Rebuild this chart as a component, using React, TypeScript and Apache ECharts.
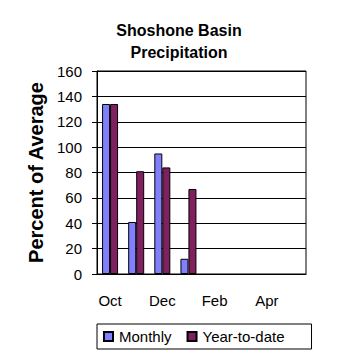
import React, { useEffect, useRef } from "react";
import * as echarts from "echarts";

const categories = ["Oct", "Nov", "Dec", "Jan", "Feb", "Mar", "Apr", "May"];
const monthly = [134, 41, 95, 12, null, null, null, null];
const yearToDate = [134, 81, 84, 67, null, null, null, null];

export default function App() {
  const ref = useRef<HTMLDivElement>(null);
  useEffect(() => {
    const chart = echarts.init(ref.current!, null, { renderer: "svg" });
    const font = "Liberation Sans, Arial, sans-serif";
    chart.setOption({
      animation: false,
      backgroundColor: "#fff",
      title: {
        text: "Shoshone Basin\nPrecipitation",
        left: "center",
        top: 14,
        textStyle: { fontFamily: font, fontSize: 16, fontWeight: "bold", color: "#000", lineHeight: 22 },
      },
      grid: { left: 97, right: 52, top: 71, bottom: 84, show: true, borderColor: "#000", borderWidth: 1 },
      legend: {
        left: 97,
        top: 324,
        borderColor: "#000",
        borderWidth: 1,
        padding: [5, 27, 5, 6],
        itemWidth: 9,
        itemHeight: 9,
        itemGap: 15,
        icon: "rect",
        textStyle: { fontFamily: font, fontSize: 15, color: "#000", padding: [0, 0, 0, 1] },
        data: ["Monthly", "Year-to-date"],
      },
      xAxis: {
        type: "category",
        data: categories,
        axisLine: { lineStyle: { color: "#000", width: 1 } },
        axisTick: { interval: 0, length: 5, lineStyle: { color: "#000" } },
        axisLabel: { interval: 1, margin: 19, fontFamily: font, fontSize: 15, color: "#000" },
      },
      yAxis: {
        type: "value",
        min: 0,
        max: 160,
        interval: 20,
        name: "Percent of Average",
        nameLocation: "middle",
        nameRotate: 90,
        nameGap: 51,
        nameTextStyle: { fontFamily: font, fontSize: 20, fontWeight: "bold", color: "#000" },
        axisLine: { show: true, lineStyle: { color: "#000", width: 1 } },
        axisTick: { show: true, length: 5, lineStyle: { color: "#000" } },
        axisLabel: { margin: 15, fontFamily: font, fontSize: 15, color: "#000" },
        splitLine: { lineStyle: { color: "#000", width: 1 } },
      },
      series: [
        {
          name: "Monthly",
          type: "bar",
          data: monthly,
          barWidth: 8,
          barGap: "0%",
          itemStyle: { color: "#8080ff", borderColor: "#000", borderWidth: 1 },
        },
        {
          name: "Year-to-date",
          type: "bar",
          data: yearToDate,
          barWidth: 8,
          itemStyle: { color: "#802060", borderColor: "#000", borderWidth: 1 },
        },
      ],
    });
    return () => chart.dispose();
  }, []);
  return <div ref={ref} style={{ position: "fixed", left: 0, top: 0, width: 358, height: 358 }} />;
}
